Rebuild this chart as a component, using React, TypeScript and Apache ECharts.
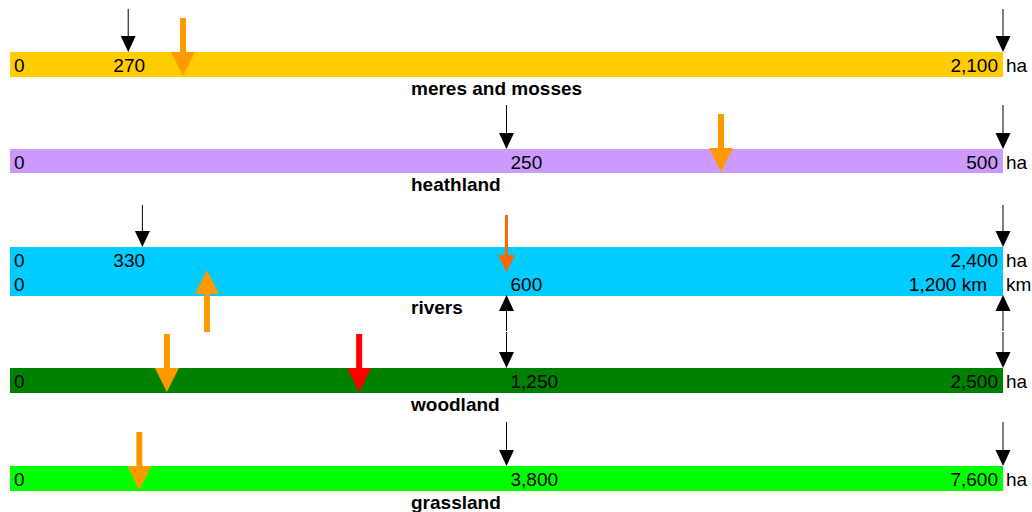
import React, { useEffect, useRef } from "react";
import * as echarts from "echarts";

// ---- data ----
const categories = ["meres and mosses", "heathland", "rivers", "woodland", "grassland"];
const scaleMax = [2100, 500, 2400, 2500, 7600];
const units = ["ha", "ha", "ha", "ha", "ha"];
const riversKmMax = 1200;
const riversKmUnit = "km";

// tick labels: [value, text]
const meresLabels: [number, string][] = [[0, "0"], [252, "270"], [2100, "2,100"]];
const heathLabels: [number, string][] = [[0, "0"], [250, "250"], [500, "500"]];
const riversHaLabels: [number, string][] = [[0, "0"], [288, "330"], [2400, "2,400"]];
const riversKmLabels: [number, string][] = [[0, "0"], [600, "600"], [1200, "1,200 km"]];
const woodLabels: [number, string][] = [[0, "0"], [1250, "1,250"], [2500, "2,500"]];
const grassLabels: [number, string][] = [[0, "0"], [3800, "3,800"], [7600, "7,600"]];

// markers: [value, kind]
const meresMarkers: [number, string][] = [[250, "black"], [366, "orange"], [2100, "black"]];
const heathMarkers: [number, string][] = [[250, "black"], [358, "orange"], [500, "black"]];
const riversHaMarkers: [number, string][] = [[320, "black"], [1200, "orangered"], [2400, "black"]];
const riversKmMarkers: [number, string][] = [[238, "orangeUp"], [600, "blackUp"], [1200, "blackUp"]];
const woodMarkers: [number, string][] = [[395, "orange"], [879, "red"], [1250, "black"], [2500, "black"]];
const grassMarkers: [number, string][] = [[990, "orange"], [3800, "black"], [7600, "black"]];

// ---- layout / style ----
const LEFT = 10;
const WIDTH = 993;
const BAR_TOP = [52, 149, 247, 368, 466];
const BAR_H = [25, 24, 49, 25, 25];
const BAR_COLORS = ["#FFCC00", "#CC99FF", "#00CCFF", "#008000", "#00FF00"];
const MID_ALIGN = ["center", "left", "center", "left", "left"];
const BLACK_LEN = [43, 44, 42, 36, 44];
const FONT = "19px 'Liberation Sans', Arial, sans-serif";
const BOLD = "bold 19px 'Liberation Sans', Arial, sans-serif";

function txt(x: number, y: number, text: string, align: string, font = FONT) {
  return {
    type: "text",
    x,
    y,
    style: {
      text,
      font,
      fill: "#000",
      align,
      verticalAlign: "middle",
      textAlign: align,
      textVerticalAlign: "middle",
    },
  };
}
function line(x1: number, y1: number, x2: number, y2: number) {
  return { type: "line", shape: { x1, y1, x2, y2 }, style: { stroke: "#000", lineWidth: 1 } };
}
function poly(points: number[][], fill: string) {
  return { type: "polygon", shape: { points }, style: { fill } };
}
function rect(x: number, y: number, width: number, height: number, fill: string) {
  return { type: "rect", shape: { x, y, width, height }, style: { fill } };
}

function drawMarker(kind: string, x: number, top: number, bottom: number, blackLen: number) {
  if (kind === "black") {
    return [line(x, top - blackLen, x, top - 15), poly([[x - 7.5, top - 16], [x + 7.5, top - 16], [x, top]], "#000")];
  }
  if (kind === "blackUp") {
    const t = bottom - 1;
    return [line(x, t + 15, x, t + 36), poly([[x - 7.5, t + 16], [x + 7.5, t + 16], [x, t]], "#000")];
  }
  if (kind === "orange" || kind === "red") {
    const c = kind === "red" ? "#FF0000" : "#FF9900";
    const t = bottom - 1;
    return [rect(x - 3, t - 58, 6, 35, c), poly([[x - 12, t - 24], [x + 12, t - 24], [x, t]], c)];
  }
  if (kind === "orangered") {
    const c = "#FF6600";
    const t = top + 25;
    return [rect(x - 1.5, t - 57, 3, 42, c), poly([[x - 8.5, t - 17], [x + 8.5, t - 17], [x, t]], c)];
  }
  // orangeUp
  const c = "#FF9900";
  const t = top + 23;
  return [rect(x - 3, t + 23, 6, 39, c), poly([[x - 12, t + 24], [x + 12, t + 24], [x, t]], c)];
}

function buildOption() {
  const rowLabels = [meresLabels, heathLabels, riversHaLabels, woodLabels, grassLabels];
  const rowMarkers = [meresMarkers, heathMarkers, riversHaMarkers, woodMarkers, grassMarkers];

  const grid = categories.map((_, i) => ({ left: LEFT, width: WIDTH, top: BAR_TOP[i], height: BAR_H[i] }));
  const xAxis: any[] = categories.map((_, i) => ({ type: "value", gridIndex: i, min: 0, max: scaleMax[i], show: false }));
  xAxis.push({ type: "value", gridIndex: 2, min: 0, max: riversKmMax, show: false });
  const yAxis = categories.map((_, i) => ({ type: "value", gridIndex: i, min: 0, max: 1, show: false }));

  const series: any[] = [];
  const lineY = (i: number, second: boolean) => {
    if (i === 2) return second ? 37.4 : 13.4;
    return BAR_H[i] / 2 + 1;
  };

  const addLabels = (
    i: number,
    axisIdx: number,
    labels: [number, string][],
    yOff: number,
    unit: string,
    mid: string,
    endPad: number
  ) => {
    series.push({
      type: "custom",
      xAxisIndex: axisIdx,
      yAxisIndex: i,
      z: 2,
      silent: true,
      data: labels.map((l) => [l[0], 0.5]),
      renderItem: (params: any, api: any) => {
        const idx = params.dataIndex;
        const n = labels.length;
        const x = api.coord([api.value(0), 0.5])[0];
        const y = params.coordSys.y + yOff;
        const children: any[] = [];
        if (idx === 0) children.push(txt(x + 4, y, labels[idx][1], "left"));
        else if (idx === n - 1) {
          children.push(txt(x - endPad, y, labels[idx][1], "right"));
          children.push(txt(x + 3, y, unit, "left"));
        } else if (mid === "center") children.push(txt(x, y, labels[idx][1], "center"));
        else children.push(txt(x + 4, y, labels[idx][1], "left"));
        return { type: "group", children };
      },
    });
  };

  const addMarkers = (i: number, axisIdx: number, markers: [number, string][]) => {
    series.push({
      type: "custom",
      xAxisIndex: axisIdx,
      yAxisIndex: i,
      z: 3,
      silent: true,
      data: markers.map((m) => [m[0], 0]),
      renderItem: (params: any, api: any) => {
        const x = api.coord([api.value(0), 0])[0];
        const top = params.coordSys.y;
        const bottom = top + params.coordSys.height;
        return { type: "group", children: drawMarker(markers[params.dataIndex][1], x, top, bottom, BLACK_LEN[i]) };
      },
    });
  };

  categories.forEach((name, i) => {
    // bar
    series.push({
      type: "custom",
      xAxisIndex: i,
      yAxisIndex: i,
      z: 1,
      silent: true,
      data: [[0, scaleMax[i]]],
      renderItem: (params: any, api: any) => {
        const p0 = api.coord([api.value(0), 0]);
        const p1 = api.coord([api.value(1), 1]);
        return {
          type: "group",
          children: [
            rect(p0[0], p1[1], p1[0] - p0[0], p0[1] - p1[1], BAR_COLORS[i]),
            txt(411, p0[1] + 11, name, "left", BOLD),
          ],
        };
      },
    });
    addLabels(i, i, rowLabels[i], lineY(i, false), units[i], MID_ALIGN[i], 5);
    addMarkers(i, i, rowMarkers[i]);
  });
  addLabels(2, 5, riversKmLabels, lineY(2, true), riversKmUnit, "left", 16);
  addMarkers(2, 5, riversKmMarkers);

  return { animation: false, grid, xAxis, yAxis, series };
}

export default function App() {
  const ref = useRef<HTMLDivElement>(null);
  useEffect(() => {
    const chart = echarts.init(ref.current!, undefined, { renderer: "svg" });
    chart.setOption(buildOption() as any);
    return () => chart.dispose();
  }, []);
  return <div ref={ref} style={{ position: "absolute", left: 0, top: 0, width: 1032, height: 512 }} />;
}
